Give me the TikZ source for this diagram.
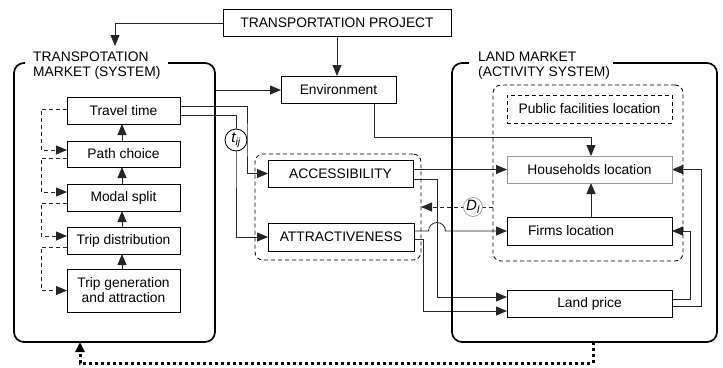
\documentclass[tikz,border=0pt]{standalone}
\usepackage{fontspec}
\setmainfont{Liberation Sans}
\usetikzlibrary{arrows.meta}
\pgfdeclarelayer{bg}
\pgfsetlayers{bg,main}
\begin{document}
\begin{tikzpicture}[x=1pt,y=-1pt,
  font=\fontsize{13.8}{15}\selectfont,
  >={Triangle[length=11pt,width=9pt]},
  box/.style={draw, line width=0.8pt, minimum height=27pt, inner sep=0pt, outer sep=0pt},
  lbox/.style={box, minimum width=113pt},
  rbox/.style={box, minimum width=165pt, minimum height=28pt},
  dsh/.style={dash pattern=on 4pt off 3pt},
  grp/.style={draw, dsh, line width=0.8pt, rounded corners=8pt, inner sep=0pt, outer sep=0pt},
  conn/.style={line width=0.8pt, black!85},
  bigbox/.style={line width=1.7pt, rounded corners=10pt},
  ttl/.style={anchor=north west, align=left, inner sep=0pt}]
\useasboundingbox (0,0) rectangle (723,367);

% big system boxes
\draw[bigbox] (168,63) -- (215,63) -- (215,342) -- (14,342) -- (14,63) -- (25,63);
\draw[bigbox] (613,63) -- (717,63) -- (717,342) -- (452,342) -- (452,63) -- (469,63);
\node[ttl] (ltitle) at (33,52) {TRANSPOTATION\\MARKET (SYSTEM)};
\node[ttl] (rtitle) at (478,52) {LAND MARKET\\(ACTIVITY SYSTEM)};
\coordinate (lbE) at (215,90);
\coordinate (lbS) at (80,342);
\coordinate (rbS) at (593,342);
\coordinate (tpArr) at (115,46);

% nodes
\node[box, minimum width=228pt] (tp) at (337,23) {TRANSPORTATION PROJECT};
\node[box, minimum width=115pt] (env) at (338.5,89.5) {Environment};

\node[lbox] (tt) at (123.5,110.5) {Travel time};
\node[lbox, minimum height=26pt] (pc) at (123.5,154) {Path choice};
\node[lbox] (ms) at (123.5,197.5) {Modal split};
\node[lbox] (td) at (123.5,240.5) {Trip distribution};
\node[lbox, minimum height=43pt, align=center] (tg) at (123.5,290.5) {Trip generation\\and attraction};

\node[grp, minimum width=166pt, minimum height=106pt] (lgrp) at (338,207) {};
\node[box, minimum width=145pt] (acc) at (340.5,173.5) {ACCESSIBILITY};
\node[box, minimum width=146pt, minimum height=28pt] (att) at (341,237) {ATTRACTIVENESS};

\node[grp, minimum width=190pt, minimum height=176pt] (rgrp) at (588,173) {};
\node[rbox, dsh] (pf) at (589.5,109) {Public facilities location};
\node[rbox, minimum height=27pt, draw=black!40] (hh) at (589.5,169.5) {Households location};
\node[rbox] (fl) at (589.5,231) {\hspace*{-37pt}Firms location};
\node[rbox, minimum height=27pt] (lp) at (589.5,303.5) {Land price};

\node[circle, draw, fill=white, minimum size=22pt, inner sep=0pt, line width=0.8pt, font=\fontsize{15}{15}\selectfont] (tij) at (236,140) {\itshape t\textsubscript{ij}};
\node[circle, draw=black!45, fill=white, minimum size=19pt, inner sep=0pt, line width=0.6pt, font=\fontsize{15}{15}\selectfont] (dl) at (473,207) {\itshape D\textsubscript{l}};

\begin{pgfonlayer}{bg}
\draw[conn,->] (tp.west) -| (tpArr);
\draw[conn,->] (tp.south) -- (tp.south |- env.north);
\draw[conn,->] (lbE) -- (lbE -| env.west);

\draw[conn,->] ([yshift=4.5pt]tt.east) -| ([xshift=11pt]tij.center) |- (acc.west);
\draw[conn,->] ([yshift=-4.5pt]tt.east) -| (tij.center) |- (att.west);

\draw[conn,->] (acc.east |- hh.west) -- (hh.west);
\draw[conn,->] ([yshift=-5.5pt]acc.east) -- ++(24,0) |- ([yshift=6.5pt]lp.west);
\draw[conn,->] ([yshift=6pt]att.east) -- ++(14.5,0) arc[start angle=180, end angle=0, radius=8.5pt] -- (fl.west);
\draw[conn,->] ([yshift=-2pt]att.east) -- ++(9,0) |- ([yshift=-7.5pt]lp.west);

\draw[conn,->] ([xshift=35.5pt]env.south) -- ++(0,34) -| ([xshift=1.5pt]hh.north);
\draw[conn,->] ([xshift=1.5pt]fl.north) -- ([xshift=1.5pt]hh.south);
\draw[conn,->] ([yshift=4.5pt]lp.east) -- ++(18,0) |- (fl.east);
\draw[conn,->] ([yshift=-2.5pt]lp.east) -- ++(29,0) |- (hh.east);
\draw[conn,dsh,->] (rgrp.west |- dl.center) -- (lgrp.east |- dl.center);

\draw[conn,dsh,->] ([yshift=1.5pt]tt.west) -- ++(-26,0) |- ([yshift=4pt]pc.west);
\draw[conn,dsh,->] ([yshift=-4pt]pc.west) -- ++(-26,0) |- ([yshift=5.5pt]ms.west);
\draw[conn,dsh,->] ([yshift=-5.5pt]ms.west) -- ++(-26,0) |- ([yshift=4.5pt]td.west);
\draw[conn,dsh,->] ([yshift=-6.5pt]td.west) -- ++(-26,0) |- (tg.west);

\draw[conn,->] ([xshift=-1.5pt]pc.north) -- ([xshift=-1.5pt]tt.south);
\draw[conn,->] ([xshift=-1.5pt]ms.north) -- ([xshift=-1.5pt]pc.south);
\draw[conn,->] ([xshift=-1.5pt]td.north) -- ([xshift=-1.5pt]ms.south);
\draw[conn,->] ([xshift=-1.5pt]tg.north) -- ([xshift=-1.5pt]td.south);

\draw[line width=3pt, dash pattern=on 3pt off 3pt, -{Triangle[length=10pt,width=9pt]}] (rbS) -- ++(0,21) -| (lbS);
\end{pgfonlayer}
\end{tikzpicture}
\end{document}
